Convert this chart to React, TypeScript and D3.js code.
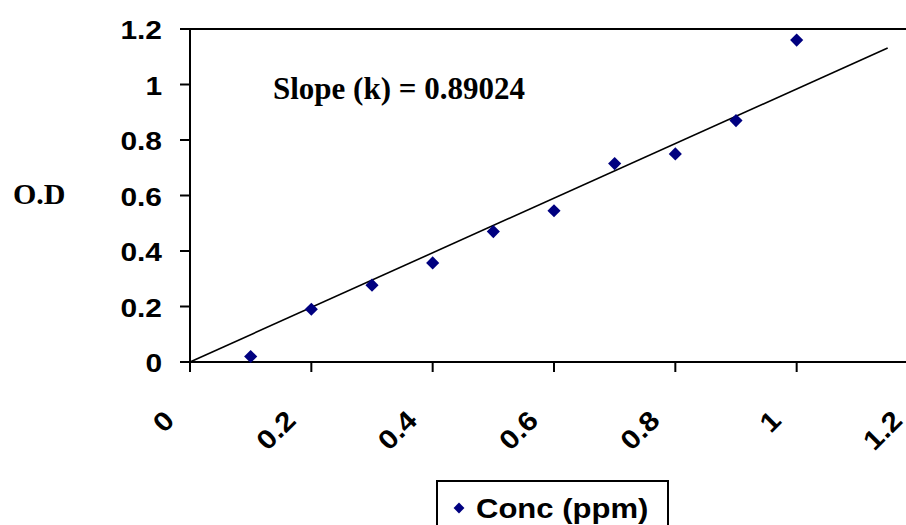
import React from 'react';
import * as d3 from 'd3';

// concentration (ppm) and optical density
const conc = [0.1, 0.2, 0.3, 0.4, 0.5, 0.6, 0.7, 0.8, 0.9, 1.0];
const od = [0.02, 0.19, 0.277, 0.357, 0.47, 0.545, 0.715, 0.75, 0.87, 1.16];
const xTicks = [0, 0.2, 0.4, 0.6, 0.8, 1, 1.2];
const yTicks = [0, 0.2, 0.4, 0.6, 0.8, 1, 1.2];
const trendSlope = 0.984;
const trendEnd = 1.15;
const slopeLabel = 'Slope (k) = 0.89024';
const seriesName = 'Conc (ppm)';
const yLabel = 'O.D';

const W = 906, H = 525;
const margin = { left: 190, top: 29, right: 918, bottom: 362 };

const sans = 'Arial, "Liberation Sans", sans-serif';
const serif = '"Times New Roman", "Liberation Serif", serif';

export default function App() {
  const x = d3.scaleLinear().domain([0, 1.2]).range([margin.left, margin.right]);
  const y = d3.scaleLinear().domain([0, 1.2]).range([margin.bottom, margin.top]);

  const pts = conc.map((c, i) => ({ c, v: od[i] }));
  const trend = d3.line<number>()
    .x(d => x(d))
    .y(d => y(d * trendSlope))([0, trendEnd]);

  const diamond = d3.symbol().type(d3.symbolDiamond2).size(110)();

  return (
    <svg width={W} height={H} style={{ position: 'absolute', left: 0, top: 0, background: '#fff' }}>
      {/* frame */}
      <line x1={margin.left} x2={W} y1={margin.top} y2={margin.top} stroke="#000" strokeWidth={2} />
      <line x1={margin.left} x2={margin.left} y1={margin.top} y2={margin.bottom + 10} stroke="#000" strokeWidth={2} />
      <line x1={margin.left - 10} x2={W} y1={margin.bottom} y2={margin.bottom} stroke="#000" strokeWidth={2} />

      {/* y axis */}
      {yTicks.map(t => (
        <g key={'y' + t}>
          <line x1={margin.left - 10} x2={margin.left} y1={y(t)} y2={y(t)} stroke="#000" strokeWidth={2} />
          <text transform={`translate(162,${y(t) + 10}) scale(1.15,1)`} textAnchor="end"
            fontFamily={sans} fontWeight="bold" fontSize={26}>{t}</text>
        </g>
      ))}

      {/* x axis */}
      {xTicks.map(t => (
        <g key={'x' + t}>
          <line x1={x(t)} x2={x(t)} y1={margin.bottom} y2={margin.bottom + 10} stroke="#000" strokeWidth={2} />
          <text transform={`translate(${x(t) - 14},${margin.bottom + 60}) rotate(-45) scale(1.12,1)`} textAnchor="end"
            fontFamily={sans} fontWeight="bold" fontSize={27}>{t}</text>
        </g>
      ))}

      {/* trend line */}
      <path d={trend ?? ''} fill="none" stroke="#000" strokeWidth={1.6} />

      {/* points */}
      {pts.map(p => (
        <path key={p.c} d={diamond ?? ''} transform={`translate(${x(p.c)},${y(p.v)})`} fill="#000080" />
      ))}

      <text x={273} y={99} fontFamily={serif} fontWeight="bold" fontSize={31}>{slopeLabel}</text>
      <text x={13} y={204} fontFamily={serif} fontWeight="bold" fontSize={30}>{yLabel}</text>

      {/* legend */}
      <rect x={437} y={481} width={231} height={60} fill="#fff" stroke="#000" strokeWidth={2} />
      <path d={d3.symbol().type(d3.symbolDiamond2).size(75)() ?? ''} transform="translate(459,508)" fill="#000080" />
      <text transform="translate(476,518) scale(1.15,1)" fontFamily={sans} fontWeight="bold" fontSize={27}>{seriesName}</text>
    </svg>
  );
}
